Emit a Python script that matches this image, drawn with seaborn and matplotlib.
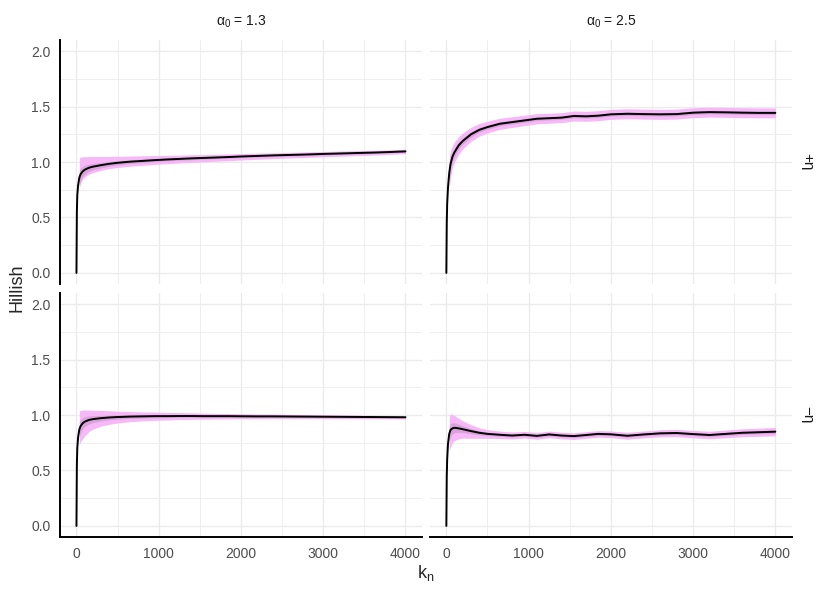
import numpy as np
import pandas as pd
import matplotlib
matplotlib.use("Agg")
import matplotlib.pyplot as plt
from matplotlib.ticker import MultipleLocator, FormatStrFormatter
import seaborn as sns

nan = np.nan

# k grid shared by all panels
k = [0, 5, 10, 20, 35, 50, 75, 100, 150, 200, 300, 400, 500, 650, 800, 950,
     1100, 1250, 1400, 1550, 1700, 1850, 2000, 2200, 2400, 2600, 2800, 3000,
     3200, 3400, 3600, 3800, 4000]

alphas = ["1.3", "2.5"]
mus = ["+", "\u2212"]

# alpha0 = 1.3, mu+
mean_13p = [0, 0.55, 0.70, 0.79, 0.86, 0.89, 0.915, 0.93, 0.948, 0.958, 0.972, 0.984, 0.993,
            1.003, 1.01, 1.017, 1.023, 1.028, 1.033, 1.037, 1.041, 1.045, 1.05, 1.055, 1.06,
            1.064, 1.068, 1.073, 1.077, 1.081, 1.085, 1.09, 1.096]
inner_13p = [nan, nan, nan, nan, 0.07, 0.055, 0.045, 0.04, 0.033, 0.029, 0.024, 0.021, 0.019,
             0.017, 0.015, 0.014, 0.013, 0.012, 0.012, 0.011, 0.011, 0.01, 0.01, 0.01, 0.009,
             0.009, 0.009, 0.009, 0.008, 0.008, 0.008, 0.008, 0.008]
up_13p = [nan, nan, nan, nan, 0.18, 0.155, 0.132, 0.118, 0.101, 0.092, 0.078, 0.067, 0.059,
          0.051, 0.046, 0.041, 0.037, 0.034, 0.032, 0.03, 0.029, 0.028, 0.026, 0.025, 0.023,
          0.023, 0.023, 0.022, 0.022, 0.022, 0.021, 0.02, 0.02]
dn_13p = [nan, nan, nan, nan, 0.10, 0.08, 0.07, 0.065, 0.058, 0.053, 0.047, 0.044, 0.042,
          0.041, 0.04, 0.039, 0.038, 0.037, 0.036, 0.035, 0.034, 0.033, 0.032, 0.03, 0.029,
          0.028, 0.027, 0.026, 0.025, 0.024, 0.023, 0.022, 0.02]

# alpha0 = 2.5, mu+
mean_25p = [0, 0.45, 0.62, 0.77, 0.90, 0.98, 1.05, 1.09, 1.15, 1.19, 1.25, 1.29, 1.315,
            1.345, 1.36, 1.375, 1.39, 1.395, 1.40, 1.415, 1.412, 1.418, 1.43, 1.435, 1.432,
            1.43, 1.432, 1.445, 1.45, 1.448, 1.445, 1.443, 1.443]
inner_25p = [nan, nan, nan, nan, 0.06, 0.05, 0.042, 0.037, 0.032, 0.028, 0.024, 0.021, 0.019,
             0.018, 0.017, 0.016, 0.016, 0.015, 0.015, 0.015, 0.015, 0.015, 0.015, 0.015, 0.015,
             0.015, 0.015, 0.015, 0.015, 0.015, 0.015, 0.015, 0.015]
up_25p = [nan, nan, nan, nan, 0.14, 0.12, 0.10, 0.09, 0.08, 0.072, 0.063, 0.057, 0.053,
          0.05, 0.048, 0.047, 0.046, 0.045, 0.045, 0.045, 0.045, 0.045, 0.045, 0.045, 0.045,
          0.045, 0.045, 0.045, 0.045, 0.045, 0.045, 0.045, 0.045]
dn_25p = [nan, nan, nan, nan, 0.14, 0.12, 0.10, 0.09, 0.08, 0.072, 0.063, 0.057, 0.053,
          0.05, 0.048, 0.047, 0.046, 0.045, 0.045, 0.045, 0.045, 0.045, 0.045, 0.045, 0.045,
          0.045, 0.045, 0.045, 0.045, 0.045, 0.045, 0.045, 0.045]

# alpha0 = 1.3, mu-
mean_13m = [0, 0.55, 0.70, 0.80, 0.87, 0.90, 0.925, 0.94, 0.955, 0.963, 0.972, 0.978, 0.982,
            0.986, 0.988, 0.99, 0.99, 0.991, 0.991, 0.99, 0.99, 0.99, 0.989, 0.988, 0.988,
            0.987, 0.986, 0.985, 0.984, 0.983, 0.982, 0.981, 0.98]
inner_13m = [nan, nan, nan, nan, 0.07, 0.06, 0.05, 0.044, 0.036, 0.031, 0.025, 0.021, 0.019,
             0.016, 0.015, 0.014, 0.013, 0.012, 0.011, 0.011, 0.01, 0.01, 0.01, 0.009, 0.009,
             0.009, 0.008, 0.008, 0.008, 0.008, 0.007, 0.007, 0.007]
up_13m = [nan, nan, nan, nan, 0.17, 0.14, 0.12, 0.105, 0.09, 0.08, 0.07, 0.06, 0.053,
          0.045, 0.04, 0.037, 0.034, 0.031, 0.029, 0.027, 0.025, 0.024, 0.022, 0.021, 0.02,
          0.019, 0.018, 0.017, 0.016, 0.016, 0.015, 0.015, 0.015]
dn_13m = [nan, nan, nan, nan, 0.14, 0.14, 0.14, 0.13, 0.105, 0.09, 0.072, 0.062, 0.054,
          0.046, 0.041, 0.038, 0.035, 0.032, 0.03, 0.028, 0.026, 0.025, 0.023, 0.022, 0.021,
          0.02, 0.019, 0.018, 0.017, 0.016, 0.016, 0.015, 0.015]

# alpha0 = 2.5, mu-
mean_25m = [0, 0.45, 0.60, 0.74, 0.83, 0.865, 0.88, 0.885, 0.88, 0.872, 0.855, 0.84, 0.83,
            0.822, 0.815, 0.822, 0.812, 0.825, 0.815, 0.81, 0.82, 0.83, 0.826, 0.813, 0.825,
            0.835, 0.838, 0.828, 0.82, 0.83, 0.84, 0.845, 0.85]
inner_25m = [nan, nan, nan, nan, 0.06, 0.058, 0.05, 0.044, 0.036, 0.03, 0.023, 0.018, 0.015,
             0.013, 0.012, 0.012, 0.012, 0.012, 0.012, 0.012, 0.012, 0.012, 0.012, 0.012, 0.012,
             0.013, 0.013, 0.013, 0.013, 0.014, 0.014, 0.014, 0.015]
up_25m = [nan, nan, nan, nan, 0.15, 0.145, 0.125, 0.11, 0.09, 0.075, 0.058, 0.045, 0.038,
          0.033, 0.031, 0.03, 0.03, 0.03, 0.03, 0.03, 0.03, 0.03, 0.03, 0.031, 0.031,
          0.032, 0.033, 0.033, 0.034, 0.035, 0.036, 0.037, 0.038]
dn_25m = [nan, nan, nan, nan, 0.15, 0.155, 0.13, 0.115, 0.095, 0.08, 0.065, 0.05, 0.04,
          0.034, 0.031, 0.03, 0.03, 0.03, 0.03, 0.03, 0.03, 0.03, 0.03, 0.031, 0.031,
          0.032, 0.033, 0.033, 0.034, 0.035, 0.036, 0.037, 0.038]

panels = [
    ("1.3", "+", mean_13p, inner_13p, up_13p, dn_13p),
    ("2.5", "+", mean_25p, inner_25p, up_25p, dn_25p),
    ("1.3", "\u2212", mean_13m, inner_13m, up_13m, dn_13m),
    ("2.5", "\u2212", mean_25m, inner_25m, up_25m, dn_25m),
]

frames = []
for a, m, mean, inner, up, dn in panels:
    frames.append(pd.DataFrame({"k": k, "alpha": a, "mu": m, "hill": mean,
                                "inner": inner, "up": up, "dn": dn}))
df = pd.concat(frames, ignore_index=True)

outer_col = "#F6B8F6"
inner_col = "#DAA2DA"
grid_col = "#EBEBEB"

sns.set_theme(style="white")
plt.rcParams["font.family"] = ["Liberation Sans", "DejaVu Sans"]
plt.rcParams["mathtext.fontset"] = "custom"
plt.rcParams["mathtext.rm"] = "Liberation Sans"
plt.rcParams["mathtext.it"] = "Liberation Sans:italic"


def draw_band(data, **kws):
    ax = plt.gca()
    d = data.dropna(subset=["up"])
    ax.fill_between(d["k"], d["hill"] - d["dn"], d["hill"] + d["up"],
                    color=outer_col, lw=0, zorder=2)
    ax.fill_between(d["k"], d["hill"] - d["inner"], d["hill"] + d["inner"],
                    color=inner_col, lw=0, zorder=3)
    sns.lineplot(data=data, x="k", y="hill", color="black", lw=1.4, ax=ax, zorder=4)


g = sns.FacetGrid(df, row="mu", col="alpha", row_order=mus, col_order=alphas,
                  sharex=True, sharey=True, despine=False)
g.map_dataframe(draw_band)
g.figure.set_size_inches(8.3, 5.93)
g.figure.subplots_adjust(left=0.0723, right=0.954, top=0.9325, bottom=0.0944,
                         wspace=0.022, hspace=0.037)
g.set_titles("")
g.set_axis_labels("", "")

for (i, j), ax in np.ndenumerate(g.axes):
    ax.set_xlim(-200, 4200)
    ax.set_ylim(-0.1, 2.1)
    ax.xaxis.set_major_locator(MultipleLocator(1000))
    ax.xaxis.set_minor_locator(MultipleLocator(500))
    ax.yaxis.set_major_locator(MultipleLocator(0.5))
    ax.yaxis.set_minor_locator(MultipleLocator(0.25))
    ax.yaxis.set_major_formatter(FormatStrFormatter("%.1f"))
    ax.grid(which="major", color=grid_col, lw=1.0)
    ax.grid(which="minor", color=grid_col, lw=0.55)
    ax.set_axisbelow(True)
    ax.tick_params(which="both", length=0, labelsize=10, labelcolor="#4D4D4D", pad=7)
    for s in ax.spines.values():
        s.set_visible(False)
    if j == 0:
        ax.spines["left"].set_visible(True)
        ax.spines["left"].set_color("black")
        ax.spines["left"].set_linewidth(1.4)
    if i == 1:
        ax.spines["bottom"].set_visible(True)
        ax.spines["bottom"].set_color("black")
        ax.spines["bottom"].set_linewidth(1.4)
    if i == 0:
        ax.text(0.5, 1.074, "\u03b1$_0$ = " + alphas[j], transform=ax.transAxes,
                ha="center", va="center", fontsize=10, color="#1A1A1A")
    if j == 1:
        ax.text(1.044, 0.5, mus[i] + "\u03b7", transform=ax.transAxes, rotation=270,
                ha="center", va="center", fontsize=11, color="#1A1A1A")

g.figure.text(0.0205, 0.514, "Hillish", rotation=90, ha="center", va="center", fontsize=13)
g.figure.text(0.513, 0.034, "k$_\\mathrm{n}$", ha="center", va="center", fontsize=13)

g.figure.savefig("out.png", dpi=100)
